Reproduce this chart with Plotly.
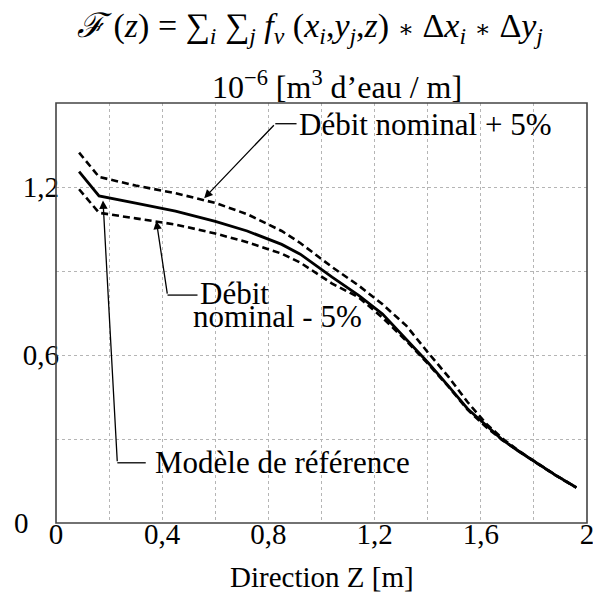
import plotly.graph_objects as go

# ---- data ----
z_vals = [0.087, 0.162, 0.3, 0.45, 0.6, 0.72, 0.85, 0.92, 1.04, 1.14, 1.23, 1.32,
          1.40, 1.48, 1.55, 1.62, 1.68, 1.74, 1.80, 1.88, 1.96]
ref_vals = [1.255, 1.168, 1.142, 1.114, 1.077, 1.043, 0.995, 0.960, 0.878, 0.813, 0.746,
            0.655, 0.574, 0.487, 0.408, 0.349, 0.298, 0.258, 0.221, 0.172, 0.127]
plus_vals = [1.323, 1.236, 1.205, 1.178, 1.143, 1.103, 1.043, 1.000, 0.914, 0.848, 0.781,
             0.704, 0.610, 0.520, 0.432, 0.355, 0.303, 0.260, 0.222, 0.172, 0.127]
minus_vals = [1.192, 1.108, 1.088, 1.066, 1.034, 1.003, 0.962, 0.930, 0.855, 0.806, 0.733,
              0.650, 0.570, 0.485, 0.405, 0.343, 0.297, 0.257, 0.220, 0.171, 0.126]

x_tick_vals = [0, 0.2, 0.4, 0.6, 0.8, 1.0, 1.2, 1.4, 1.6, 1.8, 2.0]
x_tick_text = ["0", "", "0,4", "", "0,8", "", "1,2", "", "1,6", "", "2"]
y_tick_vals = [0, 0.3, 0.6, 0.9, 1.2, 1.5]
y_tick_text = ["0", "", "0,6", "", "1,2", ""]

FONT = "Liberation Serif"
FS = 29

fig = go.Figure()
fig.add_trace(go.Scatter(x=z_vals, y=plus_vals, mode="lines",
                         line=dict(color="black", width=2.6, dash="7px,4px")))
fig.add_trace(go.Scatter(x=z_vals, y=minus_vals, mode="lines",
                         line=dict(color="black", width=2.6, dash="7px,4px")))
fig.add_trace(go.Scatter(x=z_vals, y=ref_vals, mode="lines",
                         line=dict(color="black", width=2.8)))

# the y labels are left-aligned in the reference; the short "0" label is drawn as
# a left-anchored annotation at the same left edge as "0,6" and "1,2"
y_axis_text = ["" if t == "0" else t for t in y_tick_text]

gridc = "#b5b5b5"
fig.update_xaxes(range=[0, 2], tickmode="array", tickvals=x_tick_vals, ticktext=x_tick_text,
                 showgrid=True, gridcolor=gridc, griddash="dot", gridwidth=1,
                 showline=False, ticks="", ticklabelstandoff=-9, ticklabeloverflow="allow",
                 zeroline=False, automargin=False,
                 tickfont=dict(family=FONT, size=FS, color="black"))
fig.update_yaxes(range=[0, 1.5], tickmode="array", tickvals=y_tick_vals, ticktext=y_axis_text,
                 showgrid=True, gridcolor=gridc, griddash="dot", gridwidth=1,
                 showline=False, ticks="", ticklabelstandoff=-4, ticklabeloverflow="allow",
                 zeroline=False, automargin=False,
                 tickfont=dict(family=FONT, size=FS, color="black"))

AST = '<span style="font-family:DejaVu Serif;font-size:24px">∗</span>'
annots = []
# y label "0"
annots.append(dict(xref="paper", yref="y", x=(11.5 - 56) / 531, y=y_tick_vals[0],
                   text=y_tick_text[0], showarrow=False, xanchor="left", yanchor="middle",
                   font=dict(family=FONT, size=FS, color="black")))
# titles (paper coords; plot area spans 531 px wide)
annots.append(dict(xref="paper", yref="paper", x=(310 - 56) / 531, y=1.0, yshift=75, showarrow=False,
                   xanchor="center", yanchor="middle",
                   text="<i>ℱ</i> (<i>z</i>) = ∑<sub><i>i</i></sub> ∑<sub><i>j</i></sub> "
                        "<i>f<sub>v</sub></i> (<i>x<sub>i</sub></i>,<i>y<sub>j</sub></i>,<i>z</i>) "
                        + AST + " Δ<i>x<sub>i</sub></i> " + AST + " Δ<i>y<sub>j</sub></i>",
                   font=dict(family=FONT, size=34, color="black")))
annots.append(dict(xref="paper", yref="paper", x=(337 - 56) / 531, y=1.0, yshift=18, showarrow=False,
                   xanchor="center", yanchor="middle",
                   text="10<sup>−6</sup> [m<sup>3</sup> d’eau / m]",
                   font=dict(family=FONT, size=32, color="black")))
# x axis title
annots.append(dict(xref="paper", yref="paper", x=(322 - 56) / 531, y=0, yshift=-54, showarrow=False,
                   xanchor="center", yanchor="middle", text="Direction Z [m]",
                   font=dict(family=FONT, size=FS, color="black")))
# labels
lab_font = dict(family=FONT, size=31, color="black")
annots.append(dict(x=0.9075, y=1.425, text="Débit nominal + 5%", showarrow=False,
                   xanchor="left", yanchor="middle", font=lab_font))
annots.append(dict(x=0.534, y=0.818, text="Débit", showarrow=False,
                   xanchor="left", yanchor="middle", font=lab_font))
annots.append(dict(x=0.5075, y=0.739, text="nominal - 5%", showarrow=False,
                   xanchor="left", yanchor="middle", font=lab_font))
annots.append(dict(x=0.364, y=0.215, text="Modèle de référence", showarrow=False,
                   xanchor="left", yanchor="middle", font=lab_font))
# arrows (elbow -> tip)
for tip, tail in [((0.558, 1.16), (0.826, 1.426)),
                  ((0.378, 1.079), (0.42, 0.814)),
                  ((0.177, 1.152), (0.231, 0.215))]:
    annots.append(dict(x=tip[0], y=tip[1], ax=tail[0], ay=tail[1], axref="x", ayref="y",
                       text="", showarrow=True, arrowhead=2, arrowsize=1.3, arrowwidth=1.3,
                       arrowcolor="black", standoff=0, startstandoff=0))

shapes = []
for (x0, x1, yv) in [(0.826, 0.906, 1.426), (0.42, 0.533, 0.814), (0.231, 0.338, 0.215)]:
    shapes.append(dict(type="line", x0=x0, x1=x1, y0=yv, y1=yv, xref="x", yref="y",
                       line=dict(color="black", width=1.3)))
# plot frame
shapes.append(dict(type="rect", xref="paper", yref="paper", x0=0, x1=1, y0=0, y1=1,
                   line=dict(color="#444", width=1.6), fillcolor="rgba(0,0,0,0)", layer="above"))

fig.update_layout(width=593, height=592, margin=dict(l=56, r=6, t=103, b=69),
                  plot_bgcolor="white", paper_bgcolor="white", showlegend=False,
                  annotations=annots, shapes=shapes,
                  font=dict(family=FONT, color="black"))

# remove the default 8 px page margin so the figure fills the window exactly
fig.write_html("out.html", config={"displayModeBar": False},
               post_script="document.documentElement.style.overflow='hidden';"
                           "document.body.style.margin='0px';document.body.style.overflow='hidden';")
